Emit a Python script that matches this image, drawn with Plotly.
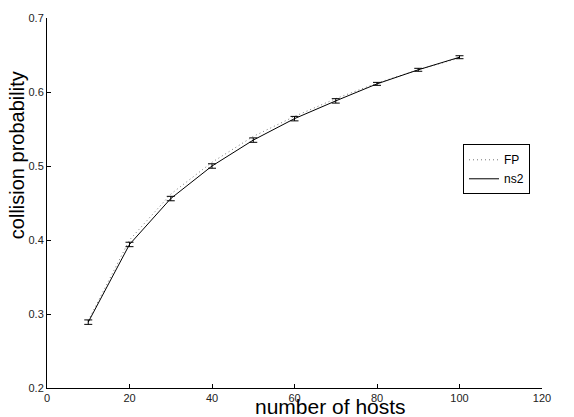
import plotly.graph_objects as go

hosts = [10, 20, 30, 40, 50, 60, 70, 80, 90, 100]
fp = [0.291, 0.400, 0.462, 0.505, 0.540, 0.567, 0.591, 0.612, 0.630, 0.646]
ns2 = [0.289, 0.394, 0.456, 0.500, 0.535, 0.564, 0.588, 0.611, 0.630, 0.647]
ns2_err = [0.003, 0.003, 0.003, 0.003, 0.003, 0.003, 0.003, 0.002, 0.002, 0.002]

x_ticks = [0, 20, 40, 60, 80, 100, 120]
y_ticks = [0.2, 0.3, 0.4, 0.5, 0.6, 0.7]

FONT = "Liberation Sans, Arial, Helvetica, sans-serif"

fig = go.Figure()
fig.add_trace(go.Scatter(
    x=hosts, y=fp, mode="lines", name="FP",
    line=dict(color="#777777", width=1, dash="1px,3px"),
))
fig.add_trace(go.Scatter(
    x=hosts, y=ns2, mode="lines", name="ns2",
    line=dict(color="black", width=1),
    error_y=dict(type="data", array=ns2_err, visible=True,
                 color="black", thickness=1, width=4),
))

fig.update_layout(
    width=574, height=417,
    margin=dict(l=47, r=32, t=13, b=29),
    paper_bgcolor="white", plot_bgcolor="white",
    font=dict(family=FONT, color="black"),
    showlegend=True,
    legend=dict(
        x=(463 - 47) / 495, y=(388 - 141) / 375, xanchor="left", yanchor="top",
        bordercolor="black", borderwidth=1, bgcolor="white",
        font=dict(size=12, family=FONT, color="black"),
        itemwidth=30, tracegroupgap=0,
    ),
    xaxis=dict(
        range=[0, 120], tickvals=x_ticks, ticktext=[str(v) for v in x_ticks],
        showgrid=False, zeroline=False, showline=True, linecolor="black",
        linewidth=1, ticks="inside", ticklen=4, tickcolor="black",
        tickfont=dict(size=11, color="#222222"), mirror=False,
    ),
    yaxis=dict(
        range=[0.2, 0.7], tickvals=y_ticks, ticktext=[f"{v:.1f}" for v in y_ticks],
        showgrid=False, zeroline=False, showline=True, linecolor="black",
        linewidth=1, ticks="inside", ticklen=4, tickcolor="black",
        tickfont=dict(size=11, color="#222222"), mirror=False,
    ),
    annotations=[
        dict(text="number of hosts", xref="paper", yref="paper",
             x=(330 - 47) / 495, y=-(407 - 388) / 375, xanchor="center", yanchor="middle",
             showarrow=False, font=dict(size=21, family=FONT, color="black")),
        dict(text="collision probability", xref="paper", yref="paper",
             x=-(47 - 17) / 495, y=(388 - 152) / 375, xanchor="center", yanchor="middle",
             textangle=-90, showarrow=False,
             font=dict(size=20, family=FONT, color="black")),
    ],
)

fig.write_html("out.html")
